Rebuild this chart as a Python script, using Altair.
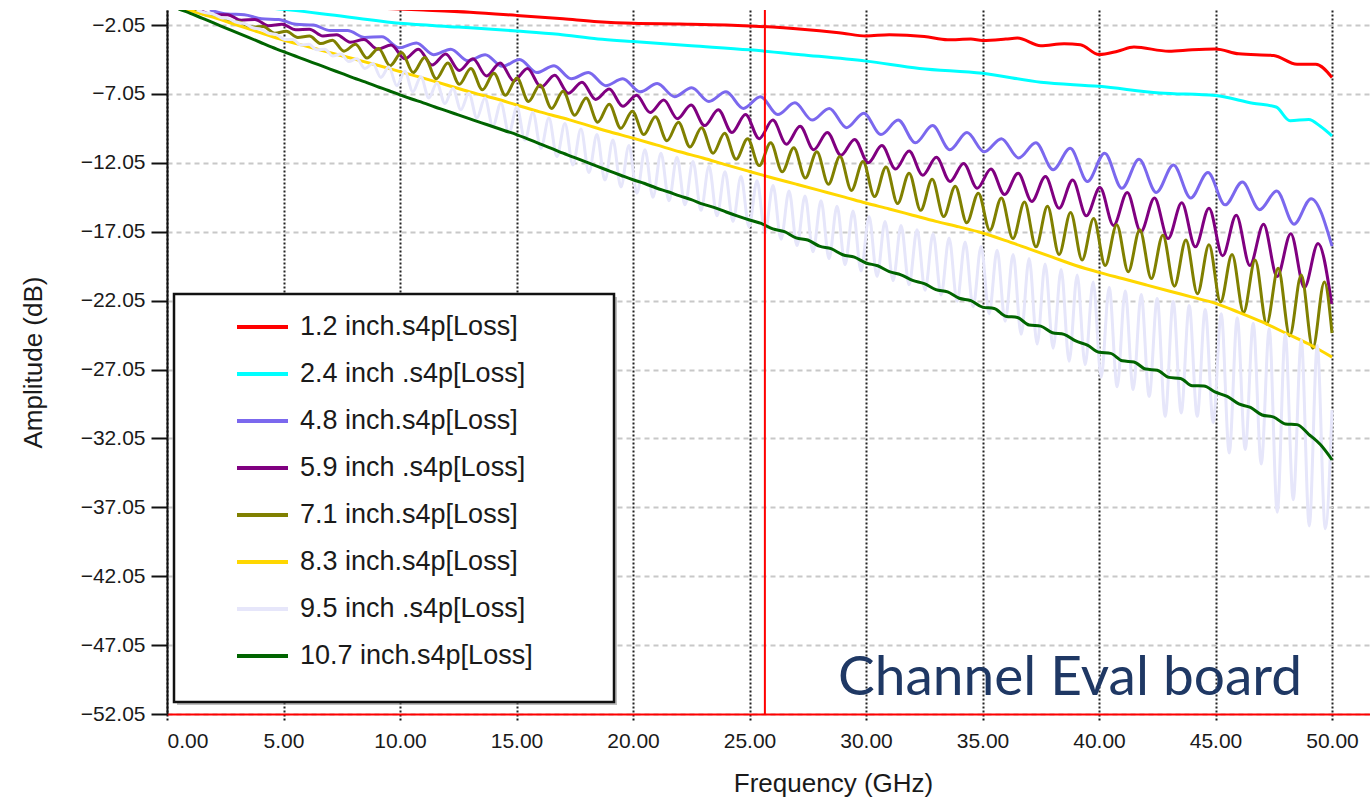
import altair as alt
import pandas as pd

# ---------------- series names & colours ----------------
SERIES = [
    "1.2 inch.s4p[Loss]",
    "2.4 inch .s4p[Loss]",
    "4.8 inch.s4p[Loss]",
    "5.9 inch .s4p[Loss]",
    "7.1 inch.s4p[Loss]",
    "8.3 inch.s4p[Loss]",
    "9.5 inch .s4p[Loss]",
    "10.7 inch.s4p[Loss]",
]
COLORS = ["#FF0000", "#00FFFF", "#7B68EE", "#800080", "#808000", "#FFD700", "#E6E6FA", "#006400"]

X_TICKS = [0, 5, 10, 15, 20, 25, 30, 35, 40, 45, 50]
Y_TICKS = [-2.05, -7.05, -12.05, -17.05, -22.05, -27.05, -32.05, -37.05, -42.05, -47.05, -52.05]
X_MAX = 51.63
Y_MIN, Y_MAX = -52.05, -0.96
MARKER_F = 25.66

# ---------------- smooth series ----------------
RED_F = [0, 3, 6, 9, 11, 13, 15, 17, 18.5, 20, 22, 24, 25, 26, 27, 28, 29, 30, 31, 32.5, 33.5,
         34.5, 35, 36, 36.5, 37.5, 38.5, 39.2, 40, 40.8, 41.5, 43, 44, 45, 46, 47.5, 48.5, 49.3, 50]
RED_DB = [-0.1, -0.35, -0.6, -0.82, -0.96, -1.12, -1.35, -1.6, -1.81, -1.93, -1.98, -2.05, -2.12,
          -2.2, -2.32, -2.47, -2.65, -2.84, -2.76, -2.88, -3.12, -3.07, -3.17, -3.07, -3.0, -3.55,
          -3.41, -3.48, -4.19, -3.95, -3.65, -3.95, -3.84, -3.79, -4.14, -4.26, -4.9, -4.9, -5.86]

CYAN_F = [0, 2, 4, 5.3, 7, 10, 12.5, 15, 16.8, 18.5, 20, 22.5, 25, 27.2, 30, 32.3, 35, 37.5, 40,
          42.6, 45, 46.6, 47.6, 48.2, 49, 49.5, 50]
CYAN_DB = [0.0, -0.38, -0.75, -0.96, -1.3, -1.93, -2.2, -2.48, -2.72, -3.07, -3.24, -3.55, -3.85,
           -4.2, -4.67, -5.2, -5.55, -6.2, -6.5, -6.98, -7.17, -7.72, -8.0, -9.0, -8.9, -9.4, -10.1]

YEL_F = [0.5, 1, 2, 3, 4, 5, 6, 7, 8, 9, 10, 11, 12, 13, 14, 15, 16, 17, 18, 19, 20, 21, 22, 23, 24,
         25, 26, 27, 28, 29, 30, 31, 32, 33, 34, 35, 36, 37, 38, 39, 40, 41, 42, 43, 44, 45, 46, 47,
         48, 49, 50]
YEL_DB = [-0.75,
          -1.0, -1.5, -2.05, -2.6, -3.14, -3.6, -4.05, -4.5, -4.95, -5.43,
          -5.9, -6.4, -6.9, -7.35, -7.85, -8.35, -8.8, -9.3, -9.8, -10.26,
          -10.75, -11.25, -11.7, -12.2, -12.68, -13.15, -13.6, -14.05, -14.5, -14.97,
          -15.4, -15.85, -16.3, -16.7, -17.14, -17.7, -18.3, -18.9, -19.5, -20.0,
          -20.45, -20.9, -21.35, -21.8, -22.25, -22.9, -23.6, -24.4, -25.2, -26.15]

GREEN_STEP = 0.5
GREEN_DB = [-0.9, -1.2, -1.55, -1.9, -2.25, -2.6, -2.95, -3.3, -3.65, -3.98,
            -4.3, -4.62, -4.93, -5.25, -5.56, -5.88, -6.18, -6.5, -6.8, -7.12,
            -7.42, -7.7, -8.0, -8.28, -8.57, -8.86, -9.15, -9.43, -9.72, -10.0,
            -10.33, -10.67, -11.0, -11.35, -11.68, -12.0, -12.33, -12.65, -12.97, -13.28,
            -13.55, -13.88, -14.15, -14.45, -14.72, -15.05, -15.3, -15.62, -15.92, -16.2,
            -16.45, -16.85, -17.05, -17.5, -17.65, -18.1, -18.28, -18.72, -18.9, -19.32,
            -19.52, -19.95, -20.18, -20.58, -20.82, -21.25, -21.42, -21.88, -22.05, -22.52,
            -22.62, -23.18, -23.28, -23.82, -23.9, -24.38, -24.5, -24.98, -25.28, -25.8,
            -25.88, -26.42, -26.5, -27.02, -27.1, -27.62, -27.7, -28.22, -28.25, -28.7,
            -29.0, -29.55, -29.8, -30.35, -30.5, -31.0, -31.05, -31.75, -32.5, -33.6]

# ---------------- rippled series: peak / trough levels ----------------
# (first peak freq, first trough freq, ripple period in GHz)
BLUE_P0, BLUE_T0, BLUE_STEP = 1.84, 2.58, 1.477
BLUE_PEAKS = [-0.95, -1.3, -1.65, -2.05, -2.45, -2.9, -3.35, -3.8, -4.2, -4.55,
              -5.0, -5.5, -5.95, -6.3, -6.6, -6.9, -7.25, -7.7, -8.1, -8.45,
              -8.95, -9.35, -9.85, -10.3, -10.6, -11.0, -11.35, -11.8, -12.2, -12.75,
              -13.45, -14.1, -14.65]
BLUE_TROUGHS = [-1.25, -1.6, -2.0, -2.45, -2.95, -3.7, -4.2, -4.65, -5.05, -5.5,
                -5.95, -6.45, -6.9, -7.25, -7.6, -8.1, -8.55, -8.95, -9.5, -10.0,
                -10.6, -11.1, -11.25, -11.7, -12.55, -13.4, -13.9, -14.2, -14.6, -15.1,
                -15.45, -16.5]
BLUE_END = (50.0, -18.1)

PURPLE_P0, PURPLE_T0, PURPLE_STEP = 1.43, 2.015, 1.17
PURPLE_PEAKS = [-1.0, -1.3, -1.65, -2.0, -2.35, -2.75, -3.1, -3.5, -3.8, -4.15,
                -4.5, -4.8, -5.2, -5.7, -6.2, -6.7, -7.15, -7.5, -7.85, -8.2,
                -8.55, -8.95, -9.4, -9.85, -10.35, -10.8, -11.2, -11.65, -12.1, -12.5,
                -12.8, -13.05, -13.3, -13.85, -14.2, -14.6, -14.95, -15.35, -15.85, -16.5,
                -17.2, -17.9]
PURPLE_TROUGHS = [-1.3, -1.7, -2.1, -2.4, -2.85, -3.3, -3.8, -4.5, -4.95, -5.35,
                  -5.75, -6.1, -6.55, -7.0, -7.45, -7.95, -8.4, -8.85, -9.35, -9.85,
                  -10.3, -10.7, -11.1, -11.5, -12.05, -12.5, -12.95, -13.4, -13.9, -14.35,
                  -14.85, -15.35, -15.9, -16.6, -17.05, -17.55, -18.15, -18.8, -19.5, -20.3,
                  -21.1, -22.3]

OLIVE_P0, OLIVE_T0, OLIVE_STEP = 1.16, 1.655, 0.99
OLIVE_PEAKS = [-1.0, -1.45, -1.85, -2.15, -2.5, -2.85, -3.15, -3.45, -3.75, -4.05,
               -4.4, -4.8, -5.2, -5.55, -5.9, -6.4, -6.85, -7.35, -7.8, -8.3,
               -8.7, -9.1, -9.5, -9.9, -10.3, -10.6, -10.95, -11.25, -11.6, -11.95,
               -12.35, -12.8, -13.25, -13.75, -14.25, -14.6, -14.9, -15.2, -15.65, -16.1,
               -16.55, -16.9, -17.3, -17.65, -18.0, -18.7, -19.1, -19.7, -20.2, -20.7]
OLIVE_TROUGHS = [-1.3, -1.75, -2.2, -2.65, -2.95, -3.4, -3.95, -4.45, -5.0, -5.5,
                 -5.95, -6.35, -6.75, -7.15, -7.6, -8.1, -8.6, -9.1, -9.55, -10.0,
                 -10.45, -10.9, -11.35, -11.8, -12.25, -12.7, -13.15, -13.6, -14.05, -14.5,
                 -15.0, -15.5, -15.95, -16.4, -16.95, -17.55, -18.15, -18.7, -19.1, -19.5,
                 -19.95, -20.45, -21.0, -21.55, -22.15, -22.9, -23.75, -24.6, -25.5]
OLIVE_END = (50.0, -24.4)

LAV_P0, LAV_T0, LAV_STEP = 1.277, 1.62, 0.687
LAV_PEAKS = [-0.95, -1.25, -1.6, -1.95, -2.35, -2.75, -3.1, -3.45, -3.8, -4.15,
             -4.5, -4.85, -5.1, -5.4, -5.8, -6.25, -6.65, -7.0, -7.35, -7.7,
             -8.0, -8.4, -8.8, -9.2, -9.6, -10.0, -10.4, -10.8, -11.1, -11.35,
             -11.65, -11.95, -12.3, -12.7, -13.05, -13.35, -13.7, -14.1, -14.45, -14.8,
             -15.2, -15.55, -15.95, -16.3, -16.6, -16.9, -17.2, -17.5, -17.8, -18.1,
             -18.4, -18.7, -19.0, -19.4, -19.8, -20.2, -20.7, -21.1, -21.35, -21.6,
             -21.9, -22.1, -22.4, -22.7, -23.0, -23.3, -23.7, -24.1, -24.5, -24.9,
             -25.3]
LAV_TROUGHS = [-1.15, -1.5, -1.85, -2.25, -2.65, -3.1, -3.5, -3.85, -4.3, -4.7,
               -5.2, -5.85, -6.45, -6.9, -7.35, -7.75, -8.2, -8.8, -9.4, -9.9,
               -10.4, -11.0, -11.6, -12.2, -12.75, -13.3, -13.8, -14.25, -14.55, -14.8,
               -15.1, -15.5, -15.9, -16.3, -16.7, -17.1, -17.6, -18.05, -18.5, -19.0,
               -19.45, -19.9, -20.3, -20.6, -20.9, -21.3, -21.65, -22.1, -22.5, -23.0,
               -23.55, -24.5, -25.2, -25.5, -26.45, -26.7, -27.6, -28.3, -28.5, -29.0,
               -30.45, -30.2, -30.45, -30.9, -33.1, -32.85, -33.9, -37.4, -36.5, -38.4,
               -38.6]
LAV_END = (50.0, -30.0)

NOTE = "Channel Eval board"
NOTE_POS = (28.8, -50.7)

FONT = "Liberation Sans"
TXT = "#1a1a1a"

# ---------------- build the table ----------------
rows = []


def add(name, freqs, vals):
    for f, v in zip(freqs, vals):
        rows.append({"series": name, "freq": round(f, 3), "db": v})


def ripple(name, p0, t0, step, peaks, troughs, end=None):
    pf = [p0 + step * i for i in range(len(peaks))]
    tf = [t0 + step * i for i in range(len(troughs))]
    add(name, pf, peaks)
    add(name, tf, troughs)
    if end is not None:
        add(name, [end[0]], [end[1]])


add(SERIES[0], RED_F, RED_DB)
add(SERIES[1], CYAN_F, CYAN_DB)
ripple(SERIES[2], BLUE_P0, BLUE_T0, BLUE_STEP, BLUE_PEAKS, BLUE_TROUGHS, BLUE_END)
ripple(SERIES[3], PURPLE_P0, PURPLE_T0, PURPLE_STEP, PURPLE_PEAKS, PURPLE_TROUGHS)
ripple(SERIES[4], OLIVE_P0, OLIVE_T0, OLIVE_STEP, OLIVE_PEAKS, OLIVE_TROUGHS, OLIVE_END)
add(SERIES[5], YEL_F, YEL_DB)
ripple(SERIES[6], LAV_P0, LAV_T0, LAV_STEP, LAV_PEAKS, LAV_TROUGHS, LAV_END)
add(SERIES[7], [GREEN_STEP * (i + 1) for i in range(len(GREEN_DB))], GREEN_DB)

df = pd.DataFrame(rows)

x_scale = alt.Scale(domain=[0, X_MAX], nice=False, zero=False)
y_scale = alt.Scale(domain=[Y_MIN, Y_MAX], nice=False, zero=False)

x_axis = alt.Axis(
    values=X_TICKS, format=".2f", title="Frequency (GHz)",
    titleFont=FONT, titleFontSize=26, titleFontWeight="normal", titleColor=TXT,
    titleX=666, titleY=69, titleAlign="center", titleBaseline="middle",
    labelFont=FONT, labelFontSize=21, labelColor=TXT, labelPadding=8,
    tickSize=8, tickWidth=2, tickColor="#111111", tickDash=[2, 2],
    domainColor="#FF0000", domainWidth=2,
    grid=True, gridColor="#222222", gridDash=[2, 2], gridWidth=2,
)
y_axis = alt.Axis(
    values=Y_TICKS, format=".2f", title="Amplitude (dB)",
    titleFont=FONT, titleFontSize=26, titleFontWeight="normal", titleColor=TXT,
    titleX=-134, titleY=352, titleAngle=270, titleAlign="center", titleBaseline="middle",
    labelFont=FONT, labelFontSize=21, labelColor=TXT, labelPadding=6,
    tickSize=16, tickWidth=2, tickColor="#111111",
    domainColor="#111111", domainWidth=2,
    grid=True, gridColor="#C8C8C8", gridDash=[5, 4], gridWidth=2,
)

lines = alt.Chart(df).mark_line(clip=True, strokeWidth=3, interpolate="monotone").encode(
    x=alt.X("freq:Q", scale=x_scale, axis=x_axis),
    y=alt.Y("db:Q", scale=y_scale, axis=y_axis),
    color=alt.Color(
        "series:N",
        scale=alt.Scale(domain=SERIES, range=COLORS),
        sort=SERIES,
        legend=alt.Legend(
            orient="none", legendX=68, legendY=289.5, title=None,
            symbolType="stroke", symbolSize=2601, symbolStrokeWidth=4,
            labelFont=FONT, labelFontSize=27, labelColor=TXT, labelOffset=10,
            labelLimit=500, rowPadding=6, padding=0,
        ),
    ),
)

marker = alt.Chart(pd.DataFrame({"freq": [MARKER_F]})).mark_rule(
    color="#FF0000", strokeWidth=2
).encode(x=alt.X("freq:Q", scale=x_scale))

one = pd.DataFrame({"k": [0]})
shadow = alt.Chart(one).mark_rect(fill="#8a8a8a", opacity=0.55).encode(
    x=alt.value(10), x2=alt.value(450), y=alt.value(287), y2=alt.value(695)
)
frame = alt.Chart(one).mark_rect(fill="white", stroke="#111111", strokeWidth=2.5).encode(
    x=alt.value(7), x2=alt.value(447), y=alt.value(284), y2=alt.value(692)
)

note = alt.Chart(pd.DataFrame({"freq": [NOTE_POS[0]], "db": [NOTE_POS[1]], "t": [NOTE]})).mark_text(
    align="left", baseline="alphabetic", font="Lato", fontSize=55, color="#1F3864"
).encode(x=alt.X("freq:Q", scale=x_scale), y=alt.Y("db:Q", scale=y_scale), text="t:N")

chart = alt.layer(lines, marker, shadow, frame, note).properties(
    width=1203, height=704,
    padding={"left": 167, "top": 10, "right": 0, "bottom": 86},
    autosize=alt.AutoSizeParams(type="none"),
    background="white",
).configure_view(stroke=None)

chart.save("out.html", embed_options={"renderer": "svg", "actions": False})
